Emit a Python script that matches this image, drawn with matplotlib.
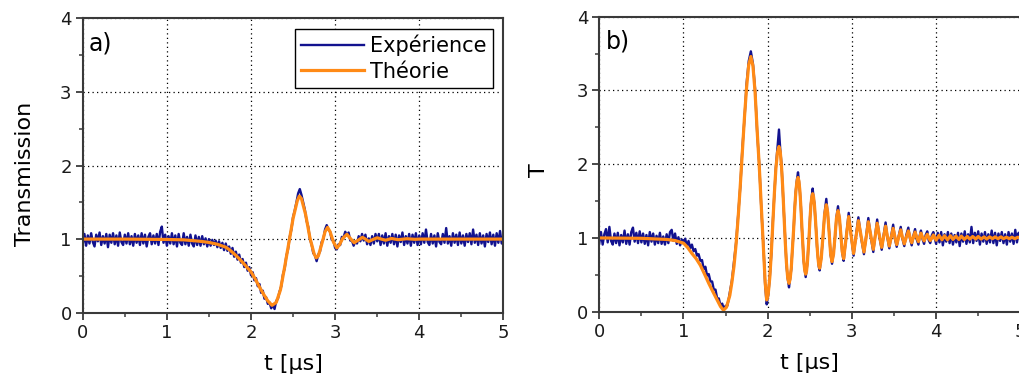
import numpy as np
import matplotlib.pyplot as plt
from matplotlib.ticker import MultipleLocator

# ---- panel a: theory (orange) ----
theory_a_t = [0.0, 0.5, 1.0, 1.2, 1.4, 1.5, 1.6, 1.7, 1.75, 1.8, 1.85, 1.9, 1.95,
              2.0, 2.05, 2.1, 2.15, 2.2, 2.25, 2.3, 2.35, 2.4, 2.45, 2.5, 2.55,
              2.575, 2.6, 2.65, 2.7, 2.75, 2.775, 2.8, 2.85, 2.88, 2.91, 2.94,
              2.98, 3.02, 3.05, 3.09, 3.14, 3.18, 3.226, 3.28, 3.325, 3.36, 3.40,
              3.45, 3.50, 3.55, 3.60, 3.67, 3.75, 3.85, 3.95, 4.0, 5.0]
theory_a_T = [1.0, 1.0, 0.995, 0.99, 0.97, 0.955, 0.93, 0.89, 0.85, 0.80, 0.745, 0.685, 0.62,
              0.555, 0.46, 0.35, 0.25, 0.16, 0.10, 0.14, 0.31, 0.62, 0.95, 1.28, 1.52,
              1.585, 1.55, 1.33, 1.02, 0.80, 0.745, 0.77, 0.97, 1.10, 1.16, 1.10,
              0.96, 0.88, 0.92, 1.01, 1.065, 1.01, 0.95, 0.99, 1.025, 1.0, 0.968,
              0.995, 1.018, 1.0, 0.985, 1.008, 0.992, 1.005, 0.997, 1.0, 1.0]

# panel a: experiment (blue), sampled every 0.02 us from 0 to 5
exp_a_T = [
    0.93, 1.07, 0.91, 1.05, 0.94, 1.08, 0.96, 0.90, 1.06, 0.97,
    1.09, 0.92, 1.04, 0.94, 1.07, 0.89, 1.06, 0.95, 1.08, 0.93,
    1.05, 0.91, 1.09, 0.96, 0.92, 1.06, 0.94, 1.08, 0.93, 1.04,
    0.91, 1.07, 0.95, 1.05, 0.92, 1.08, 0.94, 1.06, 0.90, 1.03,
    1.08, 0.93, 1.05, 0.94, 1.07, 0.92, 1.10, 1.17, 0.95, 1.06,
    0.91, 1.04, 0.94, 1.08, 0.93, 1.05, 0.90, 1.07, 0.95, 0.92,
    1.08, 0.93, 1.03, 0.91, 1.06, 0.94, 0.90, 1.05, 0.92, 1.03,
    0.91, 1.04, 0.93, 1.01, 0.90,
    1.00, 0.91, 0.99, 0.92, 0.98, 0.89, 0.97, 0.88, 0.95, 0.85,
    0.94, 0.84, 0.90, 0.80, 0.88, 0.76, 0.83, 0.72, 0.79, 0.68,
    0.73, 0.62, 0.68, 0.57, 0.62, 0.51, 0.55, 0.44, 0.47, 0.36,
    0.39, 0.27, 0.30, 0.19, 0.21, 0.12, 0.14, 0.06, 0.11, 0.05,
    0.16, 0.19, 0.29, 0.36, 0.52, 0.60, 0.77, 0.86, 1.03, 1.13,
    1.30, 1.39, 1.50, 1.62, 1.68, 1.60, 1.50, 1.40, 1.25, 1.17,
    1.00, 0.93, 0.81, 0.78, 0.70, 0.79, 0.83, 0.96, 1.00, 1.13,
    1.19, 1.13, 1.10, 0.99, 0.98, 0.88, 0.86, 0.93, 0.92, 1.03,
    1.02, 1.10, 1.05, 1.09, 0.98, 0.98, 0.91, 0.97, 0.94, 1.04,
    0.97, 1.07, 0.98, 1.06, 0.93, 1.01, 0.92, 1.04, 0.94, 1.07,
    0.97,
    1.07, 0.92, 1.05, 0.94, 1.08, 0.91, 1.04, 0.95, 1.07, 0.93,
    1.06, 0.90, 1.05, 0.96, 1.09, 0.92, 1.04, 0.94, 1.07, 0.91,
    1.06, 0.95, 1.08, 0.92, 1.05, 0.93, 1.08, 0.95, 1.13, 0.96,
    0.92, 1.07, 0.94, 1.05, 0.90, 1.08, 0.96, 0.93, 1.07, 0.95,
    1.15, 0.94, 1.04, 0.91, 1.08, 0.95, 1.06, 0.92, 1.09, 0.94,
    1.05, 0.91, 1.07, 0.96, 1.08, 0.93, 1.13, 0.95, 1.06, 0.92,
    1.08, 0.94, 1.05, 0.90, 1.07, 0.96, 1.09, 0.93, 1.06, 0.91,
    1.08, 0.95, 1.11, 0.94, 1.06]

# ---- panel b: theory (orange) ----
theory_b_t = [0.0, 0.5, 0.8, 0.9, 1.0, 1.05, 1.1, 1.15, 1.2, 1.25, 1.3, 1.35, 1.4, 1.44,
              1.475, 1.51, 1.55, 1.575, 1.6, 1.625, 1.65, 1.675, 1.7, 1.725, 1.75, 1.775,
              1.8, 1.825, 1.85, 1.875, 1.9, 1.925, 1.95, 1.97, 1.988,
              2.006, 2.025, 2.043, 2.061, 2.079, 2.097, 2.116, 2.134,
              2.149, 2.164, 2.179, 2.194, 2.208, 2.223, 2.238, 2.253,
              2.266, 2.28, 2.293, 2.307, 2.32, 2.333, 2.347, 2.36,
              2.371, 2.383, 2.394, 2.405, 2.417, 2.428, 2.44, 2.451,
              2.461, 2.472, 2.482, 2.493, 2.503, 2.513, 2.524, 2.534,
              2.544, 2.555, 2.565, 2.575, 2.586, 2.596, 2.607, 2.617,
              2.636, 2.656, 2.676, 2.696, 2.713, 2.73, 2.747, 2.764, 2.782, 2.8, 2.817,
              2.835, 2.852, 2.868, 2.885, 2.902, 2.932, 2.962, 2.99, 3.02, 3.048, 3.077,
              3.11, 3.143, 3.17, 3.195, 3.225, 3.254, 3.277, 3.3, 3.327, 3.354, 3.377,
              3.4, 3.422, 3.444, 3.467, 3.49, 3.511, 3.532, 3.556, 3.58, 3.6, 3.622,
              3.646, 3.67, 3.69, 3.71, 3.73, 3.75, 3.77, 3.79, 3.805, 3.82, 3.84, 3.857,
              3.876, 3.895, 3.912, 3.93, 3.95, 3.967, 4.0, 4.035, 4.07, 4.1, 4.135, 4.17,
              4.2, 4.235, 4.27, 4.3, 4.335, 4.37, 4.4, 4.435, 4.47, 4.5, 4.535, 4.57,
              4.6, 4.635, 4.67, 4.7, 4.735, 4.77, 4.8, 4.835, 4.87, 4.9, 4.935, 4.97, 5.0]
theory_b_T = [1.0, 0.995, 0.98, 0.965, 0.93, 0.87, 0.79, 0.72, 0.63, 0.51, 0.385, 0.27, 0.16, 0.07,
              0.02, 0.06, 0.22, 0.40, 0.62, 0.92, 1.29, 1.72, 2.19, 2.65, 3.05, 3.35,
              3.46, 3.33, 2.98, 2.45, 1.97, 1.40, 0.86, 0.40, 0.16,
              0.24, 0.465, 0.80, 1.20, 1.60, 1.935, 2.16, 2.24,
              2.17, 1.97, 1.67, 1.31, 0.957, 0.657, 0.455, 0.385,
              0.44, 0.595, 0.83, 1.10, 1.377, 1.61, 1.765, 1.82,
              1.77, 1.63, 1.415, 1.165, 0.915, 0.70, 0.56, 0.51,
              0.55, 0.67, 0.846, 1.055, 1.264, 1.44, 1.559, 1.60,
              1.56, 1.45, 1.29, 1.095, 0.90, 0.74, 0.63, 0.59,
              0.72, 1.02, 1.32, 1.45, 1.34, 1.065, 0.79, 0.68, 0.78, 1.025, 1.27,
              1.37, 1.275, 1.045, 0.815, 0.72, 1.0, 1.29, 1.04, 0.79, 1.01, 1.234,
              1.02, 0.81, 1.01, 1.22, 1.03, 0.846, 1.02, 1.20, 1.03, 0.873, 1.02,
              1.16, 1.02, 0.89, 1.01, 1.13, 1.015, 0.91, 1.01, 1.11, 1.01, 0.92,
              1.01, 1.095, 1.01, 0.935, 1.01, 1.08, 1.01, 0.95, 1.005, 1.065, 1.005, 0.96,
              1.005, 1.05, 1.005, 0.965, 1.0, 1.04, 0.97, 1.035, 0.975, 1.03, 0.975, 1.03,
              0.98, 1.025, 0.98, 1.025, 0.98, 1.02, 0.985, 1.02, 0.985, 1.02, 0.985, 1.015,
              0.985, 1.015, 0.99, 1.015, 0.99, 1.015, 0.99, 1.01, 0.99, 1.01, 0.99, 1.01, 1.0]

# panel b: experiment (blue), every 0.02 us from 0 to 1.54
exp_b_start_T = [
    0.93, 1.08, 0.91, 1.05, 1.12, 0.94, 1.15, 0.96, 0.91, 1.06,
    0.93, 1.07, 0.90, 1.04, 0.94, 1.10, 0.92, 1.05, 0.91, 1.08,
    1.14, 0.95, 1.07, 0.93, 1.09, 0.94, 1.06, 0.92, 1.04, 0.90,
    1.08, 0.95, 1.06, 0.91, 1.03, 0.93, 1.07, 0.92, 1.02, 0.91,
    1.05, 0.93, 1.08, 1.11, 0.96, 1.06, 0.92, 1.01, 0.90, 0.98,
    0.93, 0.99, 0.89, 0.96, 0.86, 0.91, 0.82, 0.85, 0.76, 0.78,
    0.69, 0.70, 0.58, 0.61, 0.49, 0.51, 0.41, 0.41, 0.30, 0.30,
    0.18, 0.18, 0.08, 0.11, 0.03, 0.08, 0.08, 0.19]
# experiment in the ringing part (1.55 to 3.967 us)
exp_b_ring_t = [
    1.55, 1.575, 1.6, 1.625, 1.65, 1.675, 1.7, 1.725, 1.75, 1.775,
    1.8, 1.825, 1.85, 1.875, 1.9, 1.925, 1.95, 1.97, 1.988, 2.006,
    2.025, 2.043, 2.061, 2.079, 2.097, 2.116, 2.134, 2.149, 2.164, 2.179,
    2.194, 2.208, 2.223, 2.238, 2.253, 2.266, 2.28, 2.293, 2.307, 2.32,
    2.333, 2.347, 2.36, 2.371, 2.383, 2.394, 2.405, 2.417, 2.428, 2.44,
    2.451, 2.461, 2.472, 2.482, 2.493, 2.503, 2.513, 2.524, 2.534, 2.544,
    2.555, 2.565, 2.575, 2.586, 2.596, 2.607, 2.617, 2.636, 2.656, 2.676,
    2.696, 2.713, 2.73, 2.747, 2.764, 2.782, 2.8, 2.817, 2.835, 2.852,
    2.868, 2.885, 2.902, 2.932, 2.962, 2.99, 3.02, 3.048, 3.077, 3.11,
    3.143, 3.17, 3.195, 3.225, 3.254, 3.277, 3.3, 3.327, 3.354, 3.377,
    3.4, 3.422, 3.444, 3.467, 3.49, 3.511, 3.532, 3.556, 3.58, 3.6,
    3.622, 3.646, 3.67, 3.69, 3.71, 3.73, 3.75, 3.77, 3.79, 3.805,
    3.82, 3.84, 3.857, 3.876, 3.895, 3.912, 3.93, 3.95, 3.967]
exp_b_ring_T = [
    0.26, 0.42, 0.68, 0.94, 1.33, 1.70, 2.23, 2.63, 3.10, 3.40,
    3.53, 3.36, 3.02, 2.43, 1.99, 1.38, 0.88, 0.36, 0.10, 0.22,
    0.47, 0.78, 1.22, 1.58, 1.96, 2.22, 2.47, 2.20, 2.00, 1.65,
    1.29, 0.97, 0.63, 0.45, 0.33, 0.45, 0.58, 0.85, 1.08, 1.39,
    1.63, 1.79, 1.89, 1.77, 1.61, 1.43, 1.15, 0.93, 0.68, 0.57,
    0.47, 0.56, 0.66, 0.86, 1.04, 1.28, 1.46, 1.57, 1.67, 1.55,
    1.47, 1.27, 1.11, 0.88, 0.75, 0.61, 0.56, 0.74, 1.00, 1.34,
    1.53, 1.32, 1.08, 0.77, 0.65, 0.80, 1.01, 1.29, 1.43, 1.26,
    1.06, 0.80, 0.69, 1.02, 1.34, 1.03, 0.76, 1.03, 1.28, 1.00,
    0.78, 1.03, 1.27, 1.01, 0.81, 1.04, 1.25, 1.01, 0.84, 1.04,
    1.21, 1.00, 0.86, 1.03, 1.18, 0.99, 0.88, 1.03, 1.15, 0.99,
    0.89, 1.04, 1.14, 0.99, 0.90, 1.03, 1.12, 0.98, 0.91, 1.03,
    1.10, 0.98, 0.92, 1.04, 1.09, 0.97, 0.93, 1.04, 1.08]
# experiment, flat tail (every 0.02 us, 4.0 to 5.0)
exp_b_end_T = [
    0.92, 1.07, 0.94, 1.08, 0.90, 1.05, 0.95, 1.08, 0.93, 1.06,
    0.91, 1.04, 0.94, 1.07, 0.89, 1.06, 0.95, 1.09, 0.92, 1.05,
    0.94, 1.15, 0.93, 1.07, 0.96, 1.09, 0.91, 1.06, 0.95, 1.08,
    0.92, 1.05, 0.94, 1.10, 0.93, 1.07, 0.90, 1.06, 0.96, 1.08,
    0.93, 1.05, 0.91, 1.08, 0.95, 1.06, 0.92, 1.11, 0.94, 1.07,
    0.98]

x_ticks = [0, 1, 2, 3, 4, 5]
y_ticks = [0, 1, 2, 3, 4]

# sample times of the experiment
exp_a_t = np.round(np.arange(0, 5.001, 0.02), 2)
exp_b_t = np.concatenate([np.round(np.arange(0, 1.55, 0.02), 2), exp_b_ring_t,
                          np.round(np.arange(4.0, 5.001, 0.02), 2)])
exp_b_T = exp_b_start_T + exp_b_ring_T + exp_b_end_T

blue = '#12128f'
orange = '#ff8a16'
spine_col = '#3a3a3a'

plt.rcParams['font.family'] = ['DejaVu Sans']

fig = plt.figure(figsize=(10.19, 3.82), dpi=100)
ax_a = fig.add_axes([0.0812, 0.1814, 0.4128, 0.7707])
ax_b = fig.add_axes([0.5881, 0.1840, 0.4132, 0.7723])


def style_axes(ax):
    ax.set_xlim(0, 5)
    ax.set_ylim(0, 4)
    ax.set_xticks(x_ticks)
    ax.set_yticks(y_ticks)
    ax.xaxis.set_minor_locator(MultipleLocator(0.5))
    ax.yaxis.set_minor_locator(MultipleLocator(0.5))
    ax.tick_params(which='major', direction='out', length=5, width=1.3,
                   color=spine_col, labelsize=13, labelcolor='#1a1a1a', pad=3)
    ax.tick_params(which='minor', direction='out', length=3, width=1.1, color=spine_col)
    for sp in ax.spines.values():
        sp.set_color(spine_col)
        sp.set_linewidth(1.5)
    ax.set_axisbelow(True)
    ax.grid(True, which='major', color='black', linewidth=0.9, linestyle=(0, (1, 2.6)))
    ax.set_xlabel('t [μs]', fontsize=16)
    ax.xaxis.set_label_coords(0.5, -0.14)


# panel a
ax_a.plot(exp_a_t, exp_a_T, color=blue, lw=1.7, label='Expérience')
ax_a.plot(theory_a_t, theory_a_T, color=orange, lw=2.3, label='Théorie')
style_axes(ax_a)
ax_a.set_ylabel('Transmission', fontsize=16)
ax_a.yaxis.set_label_coords(-0.113, 0.47)
ax_a.text(0.015, 0.955, 'a)', transform=ax_a.transAxes, fontsize=17, va='top', ha='left')
leg = ax_a.legend(loc='upper right', fontsize=15, frameon=True, fancybox=False,
                  edgecolor='black', framealpha=1, borderaxespad=0.5,
                  handlelength=3.0, handletextpad=0.3, labelspacing=0.25,
                  borderpad=0.3)
leg.get_frame().set_linewidth(1.0)

# panel b
ax_b.plot(exp_b_t, exp_b_T, color=blue, lw=1.7)
ax_b.plot(theory_b_t, theory_b_T, color=orange, lw=2.3)
style_axes(ax_b)
ax_b.set_ylabel('T', fontsize=16)
ax_b.yaxis.set_label_coords(-0.119, 0.48)
ax_b.text(0.015, 0.955, 'b)', transform=ax_b.transAxes, fontsize=17, va='top', ha='left')

plt.savefig('out.png', dpi=100)
